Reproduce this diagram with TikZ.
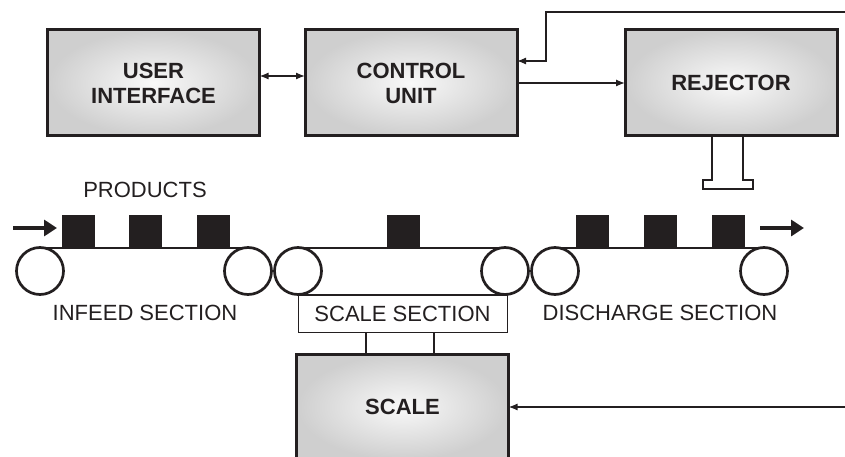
\documentclass[tikz,border=0pt]{standalone}
\usepackage{fontspec}
\setmainfont{Liberation Sans}
\usetikzlibrary{arrows.meta, positioning, calc}
\definecolor{ink}{HTML}{231F20}

\tikzset{
	box/.style={draw=ink, line width=3pt, minimum width=212pt, minimum height=106pt,
		inner color=gray!5, outer color=gray!38, text=ink, align=center, outer sep=0pt,
		font=\bfseries\fontsize{22}{25}\selectfont},
	label/.style={text=ink, inner sep=0pt, font=\fontsize{22}{24}\selectfont},
	roller/.style={circle, draw=ink, line width=2.7pt, minimum size=47pt, inner sep=0pt, outer sep=0pt},
	product/.style={fill=ink, minimum width=33pt, minimum height=32pt, inner sep=0pt, anchor=south},
	belt/.style={draw=ink, line width=2pt},
	link/.style={draw=ink, line width=1.3pt},
	feed/.style={draw=ink, line width=4.5pt, -{Triangle[length=13pt,width=16pt]}}
}

\begin{document}
\begin{tikzpicture}[x=1pt, y=-1pt, >={Latex[length=9pt,width=7pt]}]
	\clip (0,0) rectangle (845,457);

	% Bloques
	\node[box] (ui) at (153.5,83) {USER\\INTERFACE};
	\node[box] (control) at (411,83) {CONTROL\\UNIT};
	\node[box] (rejector) at (731,83) {REJECTOR};
	\node[box] (scale) at (402.5,407) {SCALE};

	% Conexiones
	\coordinate (fbin) at (845,12);
	\coordinate (scin) at (845,407);
	\draw[link, <->] ([yshift=7pt]ui.east) -- ([yshift=7pt]control.west);
	\draw[link, ->] (control.east) -- (rejector.west);
	\draw[link, ->] (fbin) -| ([xshift=29pt,yshift=22pt]control.east) -- ([yshift=22pt]control.east);
	\draw[link, ->] (scin) -- (scale.east);

	% Expulsor
	\draw[link, line width=1.1pt] (712,137) -- (712,180) -- (703,180) -- (703,189)
		-- (753,189) -- (753,180) -- (743,180) -- (743,137);

	% Rodillos y cintas
	\foreach \x [count=\i] in {40,248,298,505,555,764}
		\node[roller] (r\i) at (\x,271) {};
	\draw[belt] (r1.north) -- (r2.north);
	\draw[belt] (r3.north) -- (r4.north);
	\draw[belt] (r5.north) -- (r6.north);

	% Productos
	\foreach \x [count=\i] in {78,145,213,403,592,660,728}
		\node[product] (p\i) at (\x,247) {};
	\coordinate (inA) at (13,228);
	\coordinate (inB) at (57,228);
	\coordinate (outA) at (760,228);
	\coordinate (outB) at (804,228);
	\draw[feed] (inA) -- (inB);
	\draw[feed] (outA) -- (outB);

	% Secciones
	\node[label] (products) at (145,190) {PRODUCTS};
	\node[label] (infeed) at (145,313) {INFEED SECTION};
	\node[label] (discharge) at (660,313) {DISCHARGE SECTION};
	\node[label, draw=ink, line width=1pt, minimum width=209pt, minimum height=37pt] (scalesec)
		at (402.5,313.5) {SCALE SECTION};
	\draw[link, line width=1.1pt] (scalesec.south -| 366,0) -- (scale.north -| 366,0);
	\draw[link, line width=1.1pt] (scalesec.south -| 434,0) -- (scale.north -| 434,0);
	\draw[belt] (r3.south) -- (r4.south);
\end{tikzpicture}
\end{document}
